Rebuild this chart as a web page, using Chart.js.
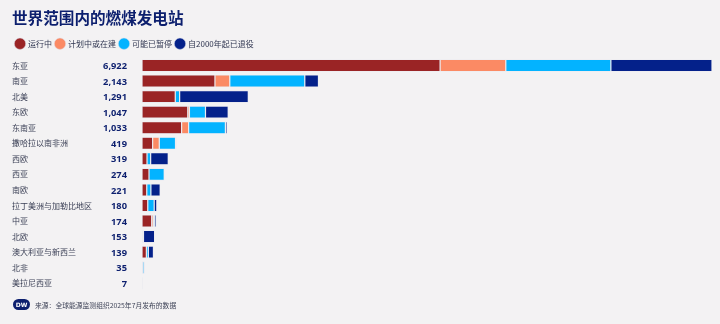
<!DOCTYPE html>
<html>
<head>
<meta charset="utf-8">
<script src="https://cdn.jsdelivr.net/npm/chart.js@4"></script>
<style>
    html, body {
        margin: 0;
        padding: 0;
        background: #f3f2f3;
    }
    #box {
        position: relative;
        width: 720px;
        height: 324px;
        font-family: "Noto Sans CJK SC", "Noto Sans", sans-serif;
    }
    #footer {
        position: absolute;
        left: 13px;
        top: 299px;
        display: flex;
        align-items: center;
        font-size: 6.8px;
        color: #3f4458;
    }
    #logo {
        width: 17px;
        height: 11px;
        border-radius: 6px;
        background: #0c1f6e;
        color: #fff;
        font: bold 6px "DejaVu Sans", sans-serif;
        display: flex;
        align-items: center;
        justify-content: center;
        margin-right: 5px;
    }
</style>
</head>
<body>
<div id="box">
    <canvas id="grafico" width="720" height="324"></canvas>
    <div id="footer"><div id="logo">DW</div>来源：全球能源监测组织2025年7月发布的数据</div>
</div>
<script>
// categorias e valores
const regioes = ["东亚", "南亚", "北美", "东欧", "东南亚", "撒哈拉以南非洲", "西欧", "西亚", "南欧",
    "拉丁美洲与加勒比地区", "中亚", "北欧", "澳大利亚与新西兰", "北非", "美拉尼西亚"];
const totais = ["6,922", "2,143", "1,291", "1,047", "1,033", "419", "319", "274", "221",
    "180", "174", "153", "139", "35", "7"];

const operando   = [3620, 886, 404, 556, 481, 129, 61, 85, 58, 70, 118, 8, 53, 10, 0];
const planejado  = [798, 180, 0, 20, 85, 81, 0, 0, 0, 0, 20, 0, 0, 0, 0];
const arquivado  = [1276, 911, 53, 195, 447, 197, 44, 185, 50, 78, 16, 10, 24, 18, 7];
const aposentado = [1228, 166, 834, 276, 20, 12, 214, 4, 113, 32, 20, 135, 62, 7, 0];

const nomesSeries = ["运行中", "计划中或在建", "可能已暂停", "自2000年起已退役"];
const cores = ["#9a2425", "#fb8a64", "#03b3ff", "#04218a"];

const navy = "#0c1f6e";

// escreve os totais à esquerda das barras
const totaisPlugin = {
    id: "totais",
    afterDraw(chart) {
        const ctx = chart.ctx;
        const y = chart.scales.y;
        ctx.save();
        ctx.font = "bold 9.3px 'Noto Sans', sans-serif";
        ctx.fillStyle = navy;
        ctx.textAlign = "right";
        ctx.textBaseline = "middle";
        totais.forEach((t, i) => {
            ctx.fillText(t, 127, y.getPixelForValue(i) + 1);
        });
        ctx.restore();
    }
};

const ctx = document.getElementById("grafico").getContext("2d");

new Chart(ctx, {
    type: "bar",
    data: {
        labels: regioes,
        datasets: [operando, planejado, arquivado, aposentado].map((d, i) => ({
            label: nomesSeries[i],
            data: d,
            backgroundColor: cores[i],
            borderColor: "rgba(220,222,235,0.7)",
            borderWidth: 0.6,
            borderSkipped: false,
            barPercentage: 0.78,
            categoryPercentage: 1
        }))
    },
    options: {
        indexAxis: "y",
        responsive: false,
        animation: false,
        layout: {
            padding: { left: 12, right: 8, top: 4, bottom: 33 }
        },
        plugins: {
            title: {
                display: true,
                text: "世界范围内的燃煤发电站",
                align: "start",
                color: navy,
                font: { family: "Noto Sans CJK SC", size: 15.6, weight: "bold" },
                padding: { top: 5, bottom: 8 }
            },
            legend: {
                align: "start",
                labels: {
                    usePointStyle: true,
                    pointStyle: "circle",
                    boxWidth: 8,
                    boxHeight: 8,
                    padding: 4,
                    color: "#2f3550",
                    font: { family: "Noto Sans CJK SC", size: 8 }
                }
            },
            tooltip: { enabled: false }
        },
        scales: {
            x: {
                stacked: true,
                display: false,
                min: 0,
                max: 6922
            },
            y: {
                stacked: true,
                grid: { display: false },
                border: { display: false },
                afterFit(scale) { scale.width = 130; },
                ticks: {
                    crossAlign: "far",
                    color: "#3a3f55",
                    padding: 0,
                    font: { family: "Noto Sans CJK SC", size: 8 }
                }
            }
        }
    },
    plugins: [totaisPlugin]
});
</script>
</body>
</html>
